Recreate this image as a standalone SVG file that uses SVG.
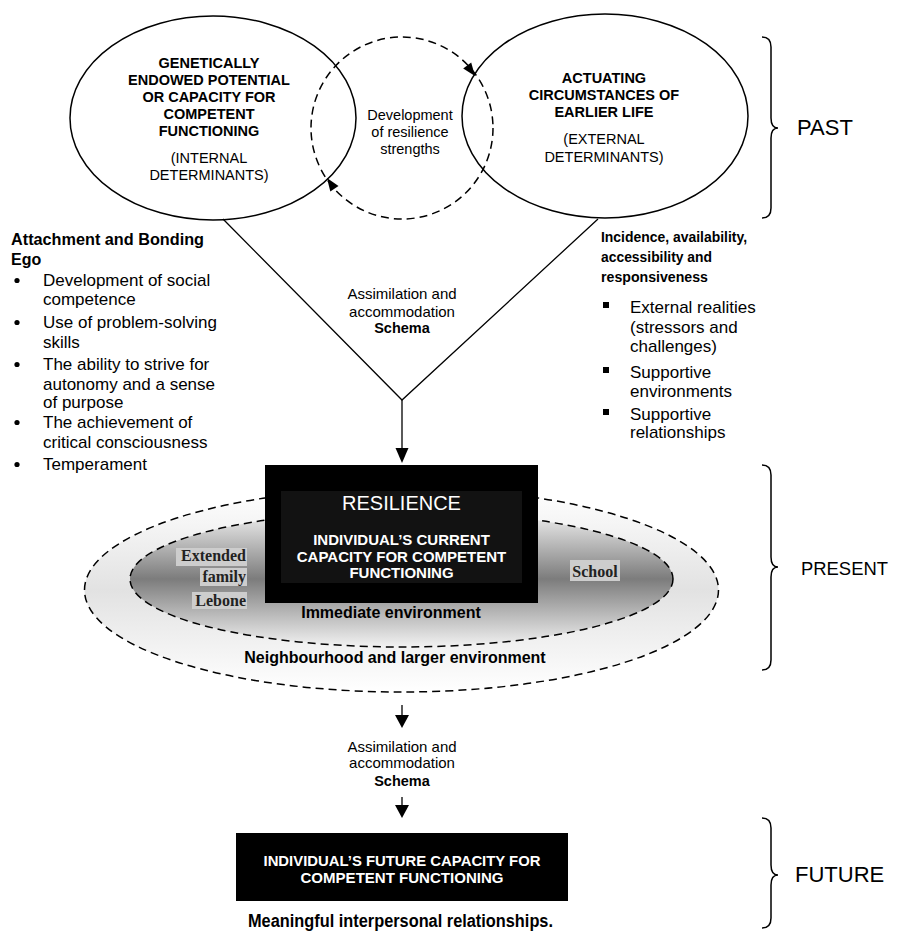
<svg xmlns="http://www.w3.org/2000/svg" width="904" height="931" viewBox="0 0 904 931">
<style>
text{font-family:"Liberation Sans",Arial,sans-serif;fill:#000}
.b{font-weight:bold}
.t{font-size:14.5px}
.c{text-anchor:middle}
.list{font-size:17px}
.w{fill:#fff}
.ser{font-family:"Liberation Serif","Times New Roman",serif;font-weight:bold;font-size:16px;fill:#222}
.big{font-size:22px}
.ol{fill:none;stroke:#000;stroke-width:1.5}
.dash{stroke:#000;stroke-width:1.5;stroke-dasharray:8 5}
.ln{fill:none;stroke:#000;stroke-width:1.3}
.brace{fill:none;stroke:#000;stroke-width:1.5}
.hl{fill:#cdcdcd}
.dot{fill:#000}
</style>
<defs>
<linearGradient id="gOuter" x1="0" y1="0" x2="0" y2="1">
<stop offset="0" stop-color="#ffffff"/>
<stop offset="0.5" stop-color="#e2e2e2"/>
<stop offset="1" stop-color="#ffffff"/>
</linearGradient>
<linearGradient id="gInner" x1="0" y1="0" x2="0" y2="1">
<stop offset="0" stop-color="#f2f2f2"/>
<stop offset="0.5" stop-color="#7c7c7c"/>
<stop offset="1" stop-color="#f2f2f2"/>
</linearGradient>
</defs>

<g id="environment-rings">
<ellipse cx="401.5" cy="590" rx="317" ry="102" fill="url(#gOuter)" class="dash"/>
<ellipse cx="401.5" cy="579" rx="271.5" ry="68" fill="url(#gInner)" class="dash"/>
<rect class="hl" x="176" y="548" width="71" height="18"/>
<rect class="hl" x="200" y="568" width="47" height="18"/>
<rect class="hl" x="192" y="592" width="55" height="17"/>
<rect class="hl" x="570" y="560" width="50" height="21"/>
<text class="ser" x="246" y="561" text-anchor="end">Extended</text>
<text class="ser" x="246" y="582" text-anchor="end">family</text>
<text class="ser" x="246" y="606" text-anchor="end">Lebone</text>
<text class="ser" x="595" y="577" text-anchor="middle" font-size="16.5">School</text>
<text class="b c" x="391" y="618" font-size="16">Immediate environment</text>
<text class="b c" x="395" y="663" font-size="16">Neighbourhood and larger environment</text>
</g>

<g id="connectors">
<circle cx="402" cy="128" r="91" fill="none" class="dash"/>
<polygon points="475,76 463.2,68.6 471.2,62.6" fill="#000"/>
<polygon points="327,178 338.5,185.9 330.3,191.5" fill="#000"/>
<polyline class="ln" points="223,219 402,400 598,219"/>
<line class="ln" x1="402" y1="400" x2="402" y2="450"/>
<polygon points="402,463 395.5,448 408.5,448" fill="#000"/>
<line class="ln" x1="402" y1="705" x2="402" y2="716"/>
<polygon points="402,728 395,715 409,715" fill="#000"/>
<line class="ln" x1="402" y1="797" x2="402" y2="806"/>
<polygon points="402,818 395,805 409,805" fill="#000"/>
</g>

<g id="internal">
<ellipse class="ol" cx="213" cy="118" rx="143" ry="102"/>
<text class="b t c" x="209" y="68">GENETICALLY</text>
<text class="b t c" x="209" y="85">ENDOWED POTENTIAL</text>
<text class="b t c" x="209" y="102">OR CAPACITY FOR</text>
<text class="b t c" x="209" y="119">COMPETENT</text>
<text class="b t c" x="209" y="136">FUNCTIONING</text>
<text class="t c" x="209" y="163">(INTERNAL</text>
<text class="t c" x="209" y="180">DETERMINANTS)</text>
</g>

<g id="resilience-strengths">
<text class="t c" x="410" y="120">Development</text>
<text class="t c" x="410" y="137">of resilience</text>
<text class="t c" x="410" y="154">strengths</text>
</g>

<g id="external">
<ellipse class="ol" cx="605" cy="116" rx="143" ry="102"/>
<text class="b t c" x="604" y="83">ACTUATING</text>
<text class="b t c" x="604" y="100">CIRCUMSTANCES OF</text>
<text class="b t c" x="604" y="117">EARLIER LIFE</text>
<text class="t c" x="604" y="144">(EXTERNAL</text>
<text class="t c" x="604" y="162">DETERMINANTS)</text>
</g>

<g id="past">
<path class="brace" d="M762,37 Q771,37 771,47 L771,118 Q771,128 778,128 Q771,128 771,138 L771,208 Q771,218 762,218"/>
<text class="big" x="797" y="135">PAST</text>
</g>

<g id="internal-list">
<text class="b" x="11" y="245" font-size="16" textLength="193" lengthAdjust="spacingAndGlyphs">Attachment and Bonding</text>
<text class="b" x="11" y="265" font-size="16">Ego</text>
<circle class="dot" cx="17" cy="280.5" r="2.6"/>
<circle class="dot" cx="17" cy="322.5" r="2.6"/>
<circle class="dot" cx="17" cy="364.5" r="2.6"/>
<circle class="dot" cx="17" cy="422.5" r="2.6"/>
<circle class="dot" cx="17" cy="464.5" r="2.6"/>
<g class="list">
<text x="43" y="286">Development of social</text>
<text x="43" y="305">competence</text>
<text x="43" y="328">Use of problem-solving</text>
<text x="43" y="348">skills</text>
<text x="43" y="370">The ability to strive for</text>
<text x="43" y="390">autonomy and a sense</text>
<text x="43" y="408">of purpose</text>
<text x="43" y="428">The achievement of</text>
<text x="43" y="448">critical consciousness</text>
<text x="43" y="470">Temperament</text>
</g>
</g>

<g id="external-list">
<text class="b" x="601" y="242" font-size="15.5" textLength="146" lengthAdjust="spacingAndGlyphs">Incidence, availability,</text>
<text class="b" x="601" y="262" font-size="15.5" textLength="111" lengthAdjust="spacingAndGlyphs">accessibility and</text>
<text class="b" x="601" y="282" font-size="15.5" textLength="107" lengthAdjust="spacingAndGlyphs">responsiveness</text>
<rect x="603" y="302" width="6" height="6"/>
<rect x="603" y="367" width="6" height="6"/>
<rect x="603" y="409" width="6" height="6"/>
<g class="list">
<text x="630" y="313">External realities</text>
<text x="630" y="333">(stressors and</text>
<text x="630" y="352">challenges)</text>
<text x="630" y="378">Supportive</text>
<text x="630" y="397">environments</text>
<text x="630" y="420">Supportive</text>
<text x="630" y="438">relationships</text>
</g>
</g>

<g id="schema-1">
<text class="c" x="402" y="299" font-size="15">Assimilation and</text>
<text class="c" x="402" y="317" font-size="15">accommodation</text>
<text class="b c" x="402" y="333" font-size="14.5">Schema</text>
</g>

<g id="resilience">
<rect x="265" y="465" width="273" height="138" fill="#000"/>
<rect x="281" y="491" width="241" height="92" fill="#121212"/>
<text class="w c" x="401.5" y="510" font-size="20">RESILIENCE</text>
<text class="w b c" x="401.5" y="545" font-size="15">INDIVIDUAL’S CURRENT</text>
<text class="w b c" x="401.5" y="562" font-size="15">CAPACITY FOR COMPETENT</text>
<text class="w b c" x="401.5" y="578" font-size="15">FUNCTIONING</text>
</g>

<g id="present">
<path class="brace" d="M762,465 Q771,465 771,475 L771,557 Q771,567 778,567 Q771,567 771,577 L771,660 Q771,670 762,670"/>
<text x="801" y="575" font-size="19" textLength="87" lengthAdjust="spacingAndGlyphs">PRESENT</text>
</g>

<g id="schema-2">
<text class="c" x="402" y="752" font-size="15">Assimilation and</text>
<text class="c" x="402" y="768" font-size="15">accommodation</text>
<text class="b c" x="402" y="786" font-size="14.5">Schema</text>
</g>

<g id="future-capacity">
<rect x="236" y="833" width="332" height="68" fill="#000"/>
<text class="w b c" x="402" y="866" font-size="15" textLength="277" lengthAdjust="spacingAndGlyphs">INDIVIDUAL’S FUTURE CAPACITY FOR</text>
<text class="w b c" x="402" y="883" font-size="15" textLength="203" lengthAdjust="spacingAndGlyphs">COMPETENT FUNCTIONING</text>
<text class="b c" x="400.5" y="927" font-size="18" textLength="305" lengthAdjust="spacingAndGlyphs">Meaningful interpersonal relationships.</text>
</g>

<g id="future">
<path class="brace" d="M762,818 Q771,818 771,828 L771,865 Q771,875 778,875 Q771,875 771,885 L771,918 Q771,928 762,928"/>
<text class="big" x="795" y="882" font-size="21">FUTURE</text>
</g>
</svg>
